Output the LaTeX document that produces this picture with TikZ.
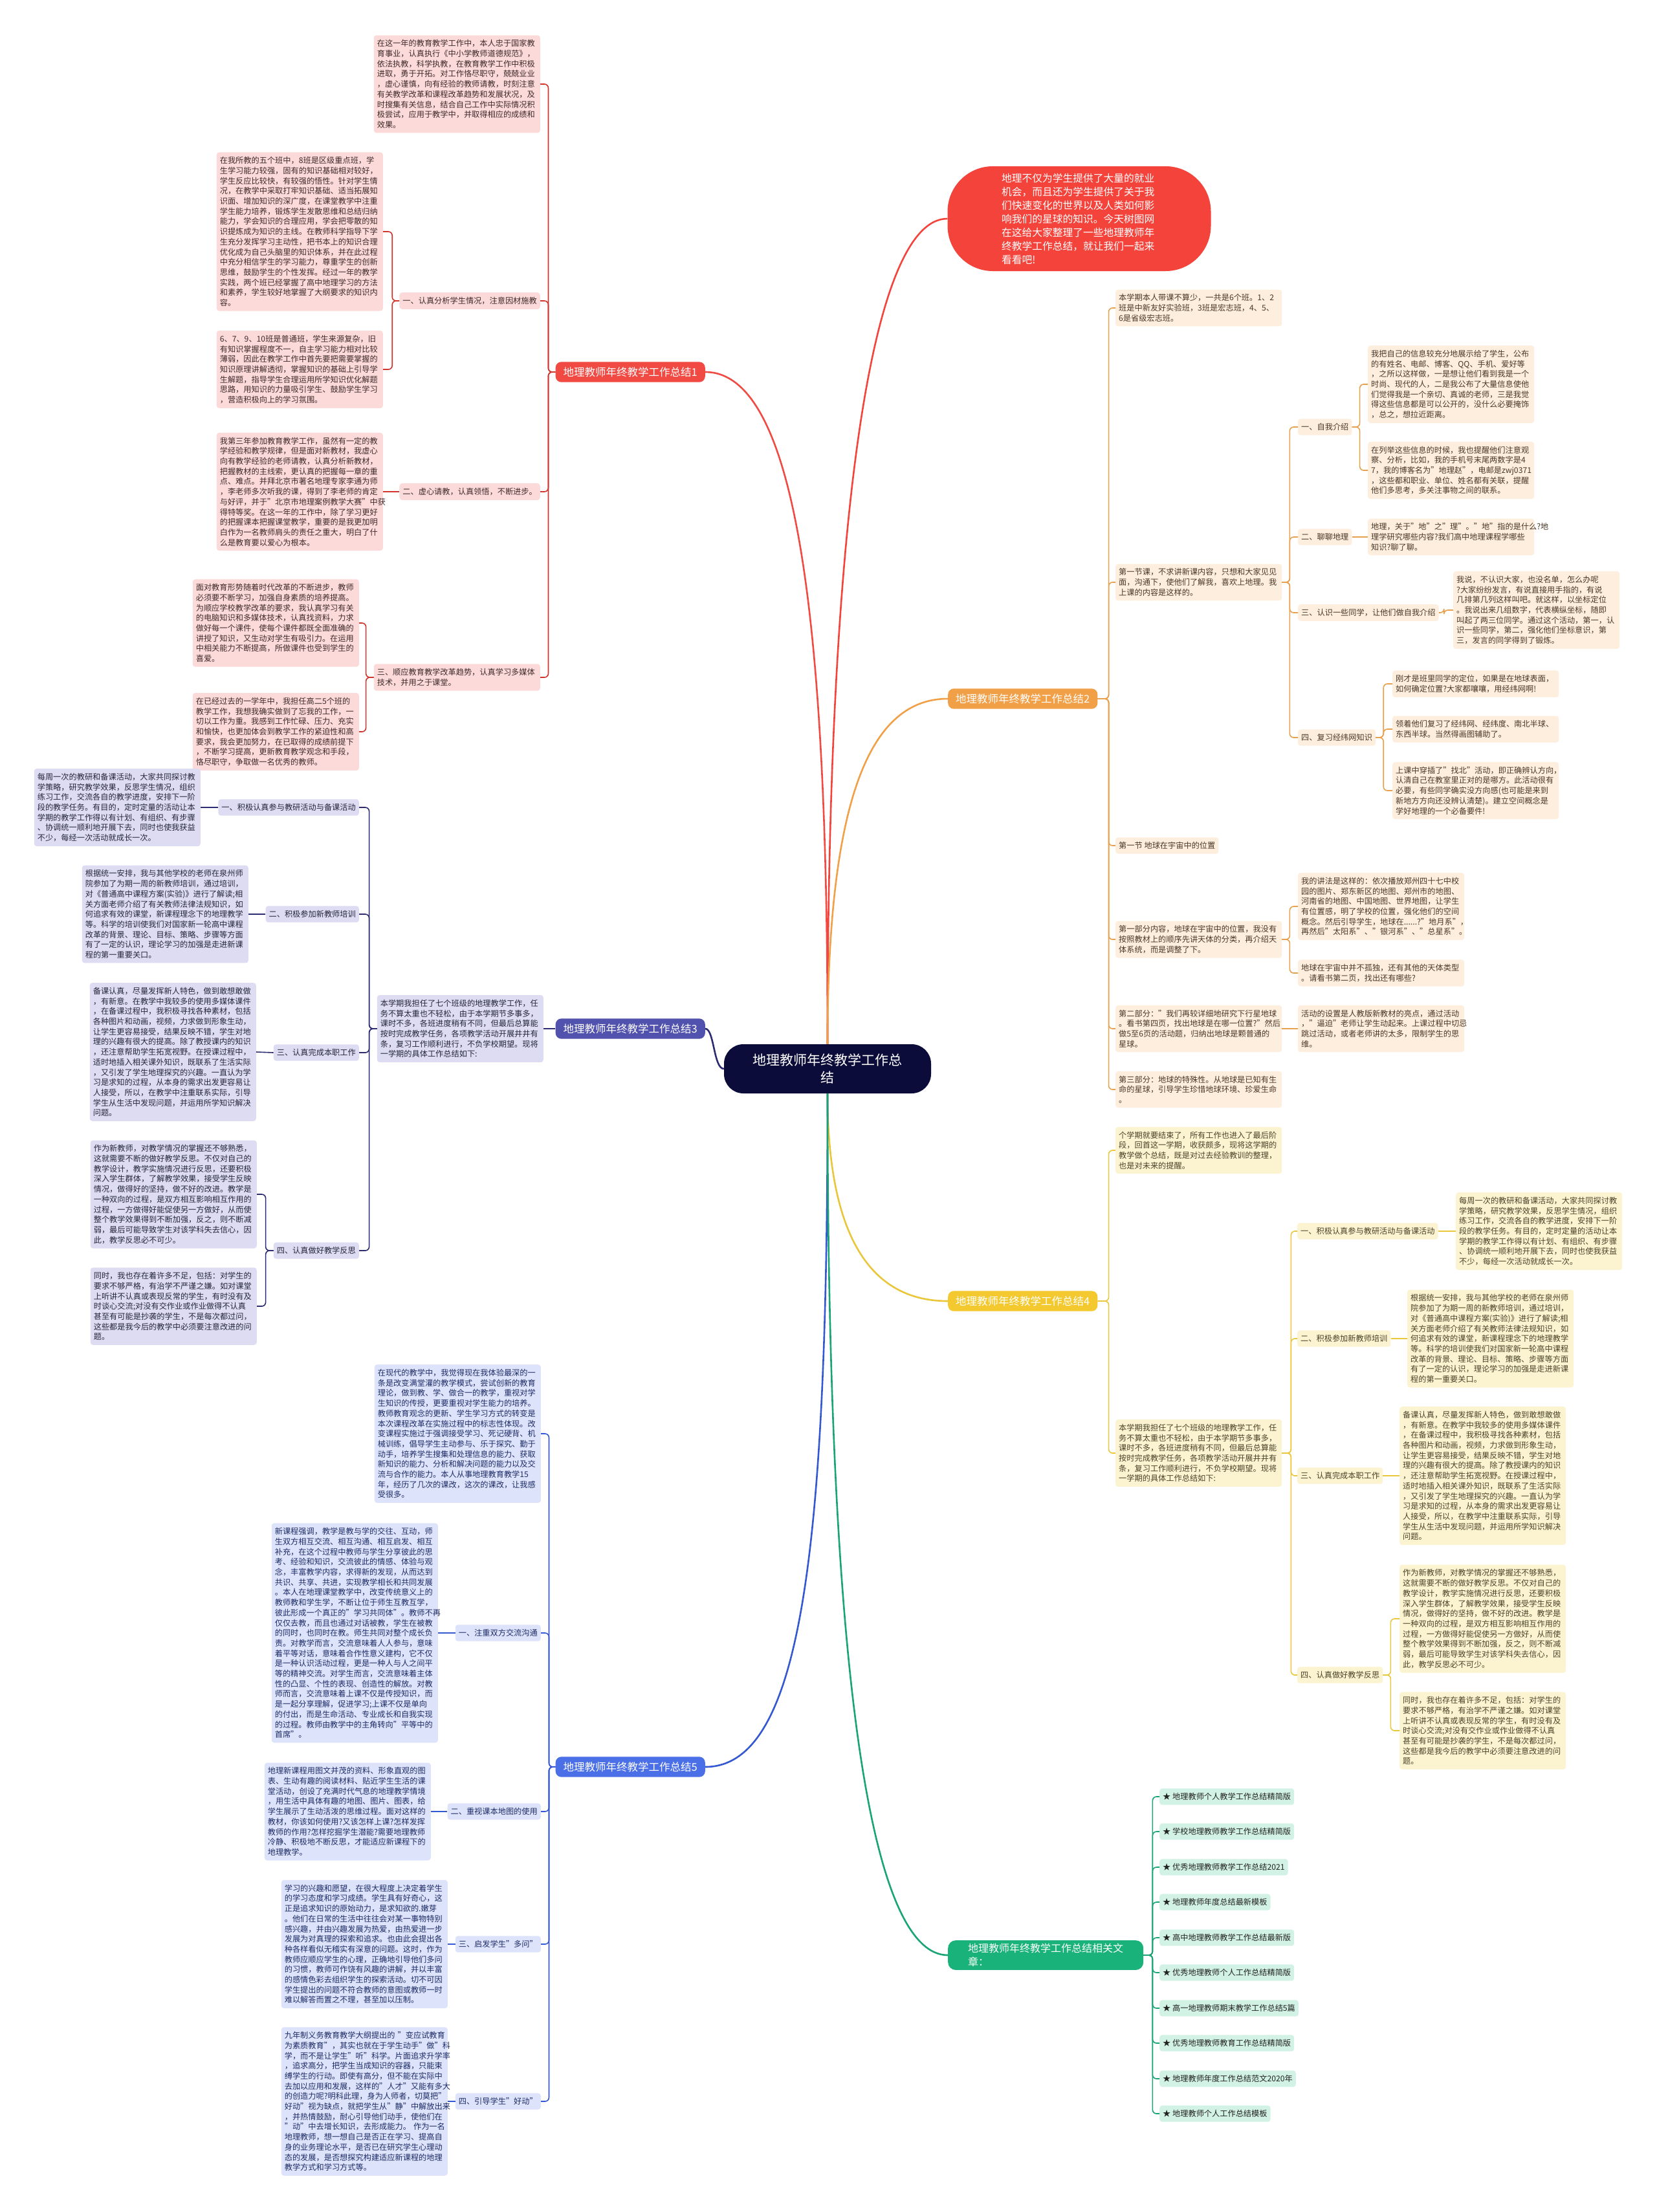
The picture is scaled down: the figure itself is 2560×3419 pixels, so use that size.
\documentclass[tikz,border=0pt]{standalone}
\usepackage{fontspec}
\setmainfont{Noto Sans CJK SC}
\usetikzlibrary{calc}
\definecolor{lnA}{HTML}{D0342C}\definecolor{fA}{HTML}{FCDADA}\definecolor{tA}{HTML}{3E2A2A}\definecolor{labA}{HTML}{F04A43}
\definecolor{lnB}{HTML}{E9A04C}\definecolor{fB}{HTML}{FDEEDD}\definecolor{tB}{HTML}{4A3826}\definecolor{labB}{HTML}{F2A047}
\definecolor{lnC}{HTML}{2C2C72}\definecolor{fC}{HTML}{DDDCF3}\definecolor{tC}{HTML}{26263A}\definecolor{labC}{HTML}{5151AE}
\definecolor{lnD}{HTML}{EAC73A}\definecolor{fD}{HTML}{FCF4D0}\definecolor{tD}{HTML}{4A4228}\definecolor{labD}{HTML}{F3C92F}
\definecolor{lnE}{HTML}{3457D2}\definecolor{fE}{HTML}{DCE3FA}\definecolor{tE}{HTML}{1E2C66}\definecolor{labE}{HTML}{4A6FE6}
\definecolor{lnF}{HTML}{19A473}\definecolor{fF}{HTML}{D2F2E5}\definecolor{tF}{HTML}{222222}\definecolor{labF}{HTML}{18B27A}
\definecolor{cen}{HTML}{0C0C3A}\definecolor{bub}{HTML}{F3433B}
\tikzset{
 txt/.style={font=\fontsize{12.2}{15.7}\selectfont, inner xsep=5pt, inner ysep=7pt, rounded corners=4pt, align=left},
 leafw/.style={text width=247pt},
 bxA/.style={txt, fill=fA, text=tA}, bxB/.style={txt, fill=fB, text=tB},
 bxC/.style={txt, fill=fC, text=tC}, bxD/.style={txt, fill=fD, text=tD},
 bxE/.style={txt, fill=fE, text=tE}, bxF/.style={txt, fill=fF, text=tF},
 lnAs/.style={draw=lnA, line width=1.6pt, rounded corners=6pt},
 lnBs/.style={draw=lnB, line width=1.6pt, rounded corners=6pt},
 lnCs/.style={draw=lnC, line width=1.6pt, rounded corners=6pt},
 lnDs/.style={draw=lnD, line width=1.6pt, rounded corners=6pt},
 lnEs/.style={draw=lnE, line width=1.6pt, rounded corners=6pt},
 lnFs/.style={draw=lnF, line width=1.6pt, rounded corners=6pt},
 lab/.style={font=\fontsize{16.5}{21}\selectfont, text=white, inner xsep=12pt, inner ysep=8pt, rounded corners=9pt},
 mainc/.style={line width=2.6pt}
}
\begin{document}
\begin{tikzpicture}[x=1pt,y=-1pt]
\useasboundingbox (0,0) rectangle (2560,3419);
\fill[white] (0,0) rectangle (2560,3419);

% centre and intro bubble
\node[fill=cen, text=white, font=\fontsize{21}{27}\selectfont, align=center, minimum width=320pt, minimum height=76pt, rounded corners=30pt, inner sep=4pt] (c) at (1279,1652) {地理教师年终教学工作总\\结};
\node[fill=bub, text=white, font=\fontsize{15.75}{21}\selectfont, align=left, text width=240pt, minimum width=407pt, minimum height=162pt, rounded corners=70pt] (bub) at (1668,338) {地理不仅为学生提供了大量的就业\\机会，而且还为学生提供了关于我\\们快速变化的世界以及人类如何影\\响我们的星球的知识。今天树图网\\在这给大家整理了一些地理教师年\\终教学工作总结，就让我们一起来\\看看吧!};

% ================= branch 1
\node[lab, fill=labA, anchor=east] (b1) at (1090,575) {地理教师年终教学工作总结1};
\node[bxA, leafw, anchor=east] (b1l1) at (835,130) {在这一年的教育教学工作中，本人忠于国家教\\育事业，认真执行《中小学教师道德规范》，\\依法执教，科学执教，在教育教学工作中积极\\进取，勇于开拓。对工作恪尽职守，兢兢业业\\，虚心谨慎，向有经验的教师请教，时刻注意\\有关教学改革和课程改革趋势和发展状况，及\\时搜集有关信息，结合自己工作中实际情况积\\极尝试，应用于教学中，并取得相应的成绩和\\效果。};
\node[bxA, anchor=east] (b1s1) at (835,465) {一、认真分析学生情况，注意因材施教};
\node[bxA, anchor=east] (b1s2) at (835,760) {二、虚心请教，认真领悟，不断进步。};
\node[bxA, leafw, anchor=east] (b1s3) at (835,1047) {三、顺应教育教学改革趋势，认真学习多媒体\\技术，并用之于课堂。};
\node[bxA, leafw, anchor=east] (b1l2) at (592,358) {在我所教的五个班中，8班是区级重点班，学\\生学习能力较强，固有的知识基础相对较好，\\学生反应比较快，有较强的悟性。针对学生情\\况，在教学中采取打牢知识基础、适当拓展知\\识面、增加知识的深广度，在课堂教学中注重\\学生能力培养，锻炼学生发散思维和总结归纳\\能力，学会知识的合理应用，学会把零散的知\\识提炼成为知识的主线。在教师科学指导下学\\生充分发挥学习主动性，把书本上的知识合理\\优化成为自己头脑里的知识体系，并在此过程\\中充分相信学生的学习能力，尊重学生的创新\\思维，鼓励学生的个性发挥。经过一年的教学\\实践，两个班已经掌握了高中地理学习的方法\\和素养，学生较好地掌握了大纲要求的知识内\\容。};
\node[bxA, leafw, anchor=east] (b1l3) at (592,571) {6、7、9、10班是普通班，学生来源复杂，旧\\有知识掌握程度不一，自主学习能力相对比较\\薄弱，因此在教学工作中首先要把需要掌握的\\知识原理讲解透彻，掌握知识的基础上引导学\\生解题，指导学生合理运用所学知识优化解题\\思路，用知识的力量吸引学生、鼓励学生学习\\，营造积极向上的学习氛围。};
\node[bxA, leafw, anchor=east] (b1l4) at (592,760) {我第三年参加教育教学工作，虽然有一定的教\\学经验和教学规律，但是面对新教材，我虚心\\向有教学经验的老师请教，认真分析新教材，\\把握教材的主线索，更认真的把握每一章的重\\点、难点。并拜北京市著名地理专家李通为师\\，李老师多次听我的课，得到了李老师的肯定\\与好评，并于"北京市地理案例教学大赛"中获\\得特等奖。在这一年的工作中，除了学习更好\\的把握课本把握课堂教学，重要的是我更加明\\白作为一名教师肩头的责任之重大，明白了什\\么是教育要以爱心为根本。};
\node[bxA, leafw, anchor=east] (b1l5) at (555,963) {面对教育形势随着时代改革的不断进步，教师\\必须要不断学习，加强自身素质的培养提高。\\为顺应学校教学改革的要求，我认真学习有关\\的电脑知识和多媒体技术，认真找资料，力求\\做好每一个课件，使每个课件都既全面准确的\\讲授了知识，又生动对学生有吸引力。在运用\\中相关能力不断提高，所做课件也受到学生的\\喜爱。};
\node[bxA, leafw, anchor=east] (b1l6) at (555,1131) {在已经过去的一学年中，我担任高二5个班的\\教学工作，我想我确实做到了忘我的工作，一\\切以工作为重。我感到工作忙碌、压力、充实\\和愉快，也更加体会到教学工作的紧迫性和高\\要求，我会更加努力，在已取得的成绩前提下\\，不断学习提高，更新教育教学观念和手段，\\恪尽职守，争取做一名优秀的教师。};
\foreach \t in {b1l1,b1s1,b1s2,b1s3}{\draw[lnAs] (b1.west) -- ++(-11,0) |- (\t.east);}
\draw[lnAs] (b1s1.west) -- ++(-11,0) |- (b1l2.east);
\draw[lnAs] (b1s1.west) -- ++(-11,0) |- (b1l3.east);
\draw[lnAs] (b1s2.west) -- (b1l4.east);
\draw[lnAs] (b1s3.west) -- ++(-12,0) |- (b1l5.east);
\draw[lnAs] (b1s3.west) -- ++(-12,0) |- (b1l6.east);

% ================= branch 3
\node[lab, fill=labC, anchor=east] (b3) at (1090,1590) {地理教师年终教学工作总结3};
\node[bxC, leafw, anchor=east] (b3t) at (840,1590) {本学期我担任了七个班级的地理教学工作，任\\务不算太重也不轻松，由于本学期节多事多，\\课时不多，各班进度稍有不同，但最后总算能\\按时完成教学任务，各项教学活动开展井井有\\条，复习工作顺利进行，不负学校期望。现将\\一学期的具体工作总结如下:};
\node[bxC, anchor=east] (b3s1) at (555,1248) {一、积极认真参与教研活动与备课活动};
\node[bxC, anchor=east] (b3s2) at (555,1413) {二、积极参加新教师培训};
\node[bxC, anchor=east] (b3s3) at (555,1627) {三、认真完成本职工作};
\node[bxC, anchor=east] (b3s4) at (555,1933) {四、认真做好教学反思};
\node[bxC, leafw, anchor=east] (b3l1) at (310,1248) {每周一次的教研和备课活动，大家共同探讨教\\学策略，研究教学效果，反思学生情况，组织\\练习工作，交流各自的教学进度，安排下一阶\\段的教学任务。有目的，定时定量的活动让本\\学期的教学工作得以有计划、有组织、有步骤\\、协调统一顺利地开展下去，同时也使我获益\\不少，每经一次活动就成长一次。};
\node[bxC, leafw, anchor=east] (b3l2) at (384,1413) {根据统一安排，我与其他学校的老师在泉州师\\院参加了为期一周的新教师培训，通过培训，\\对《普通高中课程方案(实验)》进行了解读;相\\关方面老师介绍了有关教师法律法规知识，如\\何追求有效的课堂，新课程理念下的地理教学\\等。科学的培训使我们对国家新一轮高中课程\\改革的背景、理论、目标、策略、步骤等方面\\有了一定的认识，理论学习的加强是走进新课\\程的第一重要关口。};
\node[bxC, leafw, anchor=east] (b3l3) at (396,1626) {备课认真，尽量发挥新人特色，做到敢想敢做\\，有新意。在教学中我较多的使用多媒体课件\\，在备课过程中，我积极寻找各种素材，包括\\各种图片和动画，视频，力求做到形象生动，\\让学生更容易接受，结果反映不错，学生对地\\理的兴趣有很大的提高。除了教授课内的知识\\，还注意帮助学生拓宽视野。在授课过程中，\\适时地插入相关课外知识，既联系了生活实际\\，又引发了学生地理探究的兴趣。一直认为学\\习是求知的过程，从本身的需求出发更容易让\\人接受，所以，在教学中注重联系实际，引导\\学生从生活中发现问题，并运用所学知识解决\\问题。};
\node[bxC, leafw, anchor=east] (b3l4) at (397,1846) {作为新教师，对教学情况的掌握还不够熟悉，\\这就需要不断的做好教学反思。不仅对自己的\\教学设计，教学实施情况进行反思，还要积极\\深入学生群体，了解教学效果，接受学生反映\\情况，做得好的坚持，做不好的改进。教学是\\一种双向的过程，是双方相互影响相互作用的\\过程，一方做得好能促使另一方做好，从而使\\整个教学效果得到不断加强，反之，则不断减\\弱，最后可能导致学生对该学科失去信心，因\\此，教学反思必不可少。};
\node[bxC, leafw, anchor=east] (b3l5) at (397,2019) {同时，我也存在着许多不足，包括：对学生的\\要求不够严格，有治学不严谨之嫌。如对课堂\\上听讲不认真或表现反常的学生，有时没有及\\时谈心交流;对没有交作业或作业做得不认真\\甚至有可能是抄袭的学生，不是每次都过问，\\这些都是我今后的教学中必须要注意改进的问\\题。};
\draw[lnCs] (b3.west) -- (b3t.east);
\foreach \t in {b3s1,b3s2,b3s3,b3s4}{\draw[lnCs] (b3t.west) -- ++(-12,0) |- (\t.east);}
\draw[lnCs] (b3s1.west) -- (b3l1.east);
\draw[lnCs] (b3s2.west) -- (b3l2.east);
\draw[lnCs] (b3s3.west) -- (b3l3.east);
\draw[lnCs] (b3s4.west) -- ++(-12,0) |- (b3l4.east);
\draw[lnCs] (b3s4.west) -- ++(-12,0) |- (b3l5.east);

% ================= branch 5
\node[lab, fill=labE, anchor=east] (b5) at (1090,2731) {地理教师年终教学工作总结5};
\node[bxE, leafw, anchor=east] (b5t) at (836,2216) {在现代的教学中，我觉得现在我体验最深的一\\条是改变满堂灌的教学模式，尝试创新的教育\\理论，做到教、学、做合一的教学，重视对学\\生知识的传授，更要重视对学生能力的培养。\\教师教育观念的更新、学生学习方式的转变是\\本次课程改革在实施过程中的标志性体现。改\\变课程实施过于强调接受学习、死记硬背、机\\械训练，倡导学生主动参与、乐于探究、勤于\\动手，培养学生搜集和处理信息的能力、获取\\新知识的能力、分析和解决问题的能力以及交\\流与合作的能力。本人从事地理教育教学15\\年，经历了几次的课改，这次的课改，让我感\\受很多。};
\node[bxE, anchor=east] (b5s1) at (836,2524) {一、注重双方交流沟通};
\node[bxE, anchor=east] (b5s2) at (836,2800) {二、重视课本地图的使用};
\node[bxE, anchor=east] (b5s3) at (836,3005) {三、启发学生"多问"};
\node[bxE, anchor=east] (b5s4) at (836,3248) {四、引导学生"好动"};
\node[bxE, leafw, anchor=east] (b5l1) at (677,2524) {新课程强调，教学是教与学的交往、互动，师\\生双方相互交流、相互沟通、相互启发、相互\\补充，在这个过程中教师与学生分享彼此的思\\考、经验和知识，交流彼此的情感、体验与观\\念，丰富教学内容，求得新的发现，从而达到\\共识、共享、共进，实现教学相长和共同发展\\。本人在地理课堂教学中，改变传统意义上的\\教师教和学生学，不断让位于师生互教互学，\\彼此形成一个真正的"学习共同体"。教师不再\\仅仅去教，而且也通过对话被教，学生在被教\\的同时，也同时在教。师生共同对整个成长负\\责。对教学而言，交流意味着人人参与，意味\\着平等对话，意味着合作性意义建构，它不仅\\是一种认识活动过程，更是一种人与人之间平\\等的精神交流。对学生而言，交流意味着主体\\性的凸显、个性的表现、创造性的解放。对教\\师而言，交流意味着上课不仅是传授知识，而\\是一起分享理解，促进学习;上课不仅是单向\\的付出，而是生命活动、专业成长和自我实现\\的过程。教师由教学中的主角转向"平等中的\\首席"。};
\node[bxE, leafw, anchor=east] (b5l2) at (666,2800) {地理新课程用图文并茂的资料、形象直观的图\\表、生动有趣的阅读材料、贴近学生生活的课\\堂活动，创设了充满时代气息的地理教学情境\\，用生活中具体有趣的地图、图片、图表，给\\学生展示了生动活泼的思维过程。面对这样的\\教材，你该如何使用?又该怎样上课?怎样发挥\\教师的作用?怎样挖掘学生潜能?需要地理教师\\冷静、积极地不断反思，才能适应新课程下的\\地理教学。};
\node[bxE, leafw, anchor=east] (b5l3) at (692,3005) {学习的兴趣和愿望，在很大程度上决定着学生\\的学习态度和学习成绩。学生具有好奇心，这\\正是追求知识的原始动力，是求知欲的.嫩芽\\。他们在日常的生活中往往会对某一事物特别\\感兴趣，并由兴趣发展为热爱，由热爱进一步\\发展为对真理的探索和追求。也由此会提出各\\种各样看似无稽实有深意的问题。这时，作为\\教师应顺应学生的心理，正确地引导他们多问\\的习惯，教师可作饶有风趣的讲解，并以丰富\\的感情色彩去组织学生的探索活动。切不可因\\学生提出的问题不符合教师的意图或教师一时\\难以解答而置之不理，甚至加以压制。};
\node[bxE, leafw, anchor=east] (b5l4) at (692,3248) {九年制义务教育教学大纲提出的~"变应试教育\\为素质教育"，其实也就在于学生动手"做"科\\学，而不是让学生"听"科学。片面追求升学率\\，追求高分，把学生当成知识的容器，只能束\\缚学生的行动。即使有高分，但不能在实际中\\去加以应用和发展，这样的"人才"又能有多大\\的创造力呢?明科此理，身为人师者，切莫把"\\好动"视为缺点，就把学生从"静"中解放出来\\，并热情鼓励，耐心引导他们动手，使他们在\\"动"中去增长知识，去形成能力。~作为一名\\地理教师，想一想自己是否正在学习、提高自\\身的业务理论水平，是否已在研究学生心理动\\态的发展，是否想探究构建适应新课程的地理\\教学方式和学习方式等。};
\foreach \t in {b5t,b5s1,b5s2,b5s3,b5s4}{\draw[lnEs] (b5.west) -- ++(-10,0) |- (\t.east);}
\draw[lnEs] (b5s1.west) -- (b5l1.east);
\draw[lnEs] (b5s2.west) -- (b5l2.east);
\draw[lnEs] (b5s3.west) -- (b5l3.east);
\draw[lnEs] (b5s4.west) -- (b5l4.east);

% ================= branch 2
\node[lab, fill=labB, anchor=west] (b2) at (1465,1080) {地理教师年终教学工作总结2};
\node[bxB, leafw, anchor=west] (b2l1) at (1724,476) {本学期本人带课不算少，一共是6个班。1、2\\班是中新友好实验班，3班是宏志班，4、5、\\6是省级宏志班。};
\node[bxB, leafw, anchor=west] (b2n1) at (1724,900) {第一节课，不求讲新课内容，只想和大家见见\\面，沟通下，使他们了解我，喜欢上地理。我\\上课的内容是这样的。};
\node[bxB, anchor=west] (b2h) at (1724,1307) {第一节~地球在宇宙中的位置};
\node[bxB, leafw, anchor=west] (b2p1) at (1724,1452) {第一部分内容，地球在宇宙中的位置，我没有\\按照教材上的顺序先讲天体的分类，再介绍天\\体系统，而是调整了下。};
\node[bxB, leafw, anchor=west] (b2p2) at (1724,1590) {第二部分："我们再较详细地研究下行星地球\\。看书第四页，找出地球是在哪一位置?"然后\\做5至6页的活动题，归纳出地球是颗普通的\\星球。};
\node[bxB, leafw, anchor=west] (b2p3) at (1724,1684) {第三部分：地球的特殊性。从地球是已知有生\\命的星球，引导学生珍惜地球环境、珍爱生命\\。};
\node[bxB, anchor=west] (b2s1) at (2006,660) {一、自我介绍};
\node[bxB, anchor=west] (b2s2) at (2006,830) {二、聊聊地理};
\node[bxB, anchor=west] (b2s3) at (2006,947) {三、认识一些同学，让他们做自我介绍};
\node[bxB, anchor=west] (b2s4) at (2006,1140) {四、复习经纬网知识};
\node[bxB, leafw, anchor=west] (b2a1) at (2114,594) {我把自己的信息较充分地展示给了学生，公布\\的有姓名、电邮、博客、QQ、手机、爱好等\\，之所以这样做，一是想让他们看到我是一个\\时尚、现代的人，二是我公布了大量信息使他\\们觉得我是一个亲切、真诚的老师，三是我觉\\得这些信息都是可以公开的，没什么必要掩饰\\，总之，想拉近距离。};
\node[bxB, leafw, anchor=west] (b2a2) at (2114,727) {在列举这些信息的时候，我也提醒他们注意观\\察、分析，比如，我的手机号末尾两数字是4\\7，我的博客名为"地理赵"，电邮是zwj0371\\，这些都和职业、单位、姓名都有关联，提醒\\他们多思考，多关注事物之间的联系。};
\node[bxB, leafw, anchor=west] (b2b1) at (2114,830) {地理，关于"地"之"理"。"地"指的是什么?地\\理学研究哪些内容?我们高中地理课程学哪些\\知识?聊了聊。};
\node[bxB, leafw, anchor=west] (b2c1) at (2246,943) {我说，不认识大家，也没名单，怎么办呢\\?大家纷纷发言，有说直接用手指的，有说\\几排第几列这样叫吧。就这样，以坐标定位\\。我说出来几组数字，代表横纵坐标，随即\\叫起了两三位同学。通过这个活动，第一，认\\识一些同学，第二，强化他们坐标意识，第\\三，发言的同学得到了锻炼。};
\node[bxB, leafw, anchor=west] (b2d1) at (2152,1057) {刚才是班里同学的定位，如果是在地球表面，\\如何确定位置?大家都嚷嚷，用经纬网啊!};
\node[bxB, leafw, anchor=west] (b2d2) at (2152,1127) {领着他们复习了经纬网、经纬度、南北半球、\\东西半球。当然得画图辅助了。};
\node[bxB, leafw, anchor=west] (b2d3) at (2152,1222) {上课中穿插了"找北"活动，即正确辨认方向，\\认清自己在教室里正对的是哪方。此活动很有\\必要，有些同学确实没方向感(也可能是来到\\新地方方向还没辨认清楚)。建立空间概念是\\学好地理的一个必备要件!};
\node[bxB, leafw, anchor=west] (b2e1) at (2006,1401) {我的讲法是这样的：依次播放郑州四十七中校\\园的图片、郑东新区的地图、郑州市的地图、\\河南省的地图、中国地图、世界地图，让学生\\有位置感，明了学校的位置，强化他们的空间\\概念。然后引导学生，地球在......?"地月系"，\\再然后"太阳系"、"银河系"、"总星系"。};
\node[bxB, leafw, anchor=west] (b2e2) at (2006,1504) {地球在宇宙中并不孤独，还有其他的天体类型\\。请看书第二页，找出还有哪些?};
\node[bxB, leafw, anchor=west] (b2f1) at (2006,1590) {活动的设置是人教版新教材的亮点，通过活动\\，"逼迫"老师让学生动起来。上课过程中切忌\\跳过活动，或者老师讲的太多，限制学生的思\\维。};
\foreach \t in {b2l1,b2n1,b2h,b2p1,b2p2,b2p3}{\draw[lnBs] (b2.east) -- ++(17,0) |- (\t.west);}
\foreach \t in {b2s1,b2s2,b2s3,b2s4}{\draw[lnBs] (b2n1.east) -- ++(12,0) |- (\t.west);}
\draw[lnBs] (b2s1.east) -- ++(12,0) |- (b2a1.west);
\draw[lnBs] (b2s1.east) -- ++(12,0) |- (b2a2.west);
\draw[lnBs] (b2s2.east) -- (b2b1.west);
\draw[lnBs] (b2s3.east) -- ++(8,0) |- (b2c1.west);
\foreach \t in {b2d1,b2d2,b2d3}{\draw[lnBs] (b2s4.east) -- ++(12,0) |- (\t.west);}
\draw[lnBs] (b2p1.east) -- ++(12,0) |- (b2e1.west);
\draw[lnBs] (b2p1.east) -- ++(12,0) |- (b2e2.west);
\draw[lnBs] (b2p2.east) -- (b2f1.west);

% ================= branch 4
\node[lab, fill=labD, anchor=west] (b4) at (1465,2011) {地理教师年终教学工作总结4};
\node[bxD, leafw, anchor=west] (b4l1) at (1724,1778) {个学期就要结束了，所有工作也进入了最后阶\\段，回首这一学期，收获颇多，现将这学期的\\教学做个总结，既是对过去经验教训的整理，\\也是对未来的提醒。};
\node[bxD, leafw, anchor=west] (b4t) at (1724,2246) {本学期我担任了七个班级的地理教学工作，任\\务不算太重也不轻松，由于本学期节多事多，\\课时不多，各班进度稍有不同，但最后总算能\\按时完成教学任务，各项教学活动开展井井有\\条，复习工作顺利进行，不负学校期望。现将\\一学期的具体工作总结如下:};
\node[bxD, anchor=west] (b4s1) at (2005,1903) {一、积极认真参与教研活动与备课活动};
\node[bxD, anchor=west] (b4s2) at (2005,2069) {二、积极参加新教师培训};
\node[bxD, anchor=west] (b4s3) at (2005,2281) {三、认真完成本职工作};
\node[bxD, anchor=west] (b4s4) at (2005,2589) {四、认真做好教学反思};
\node[bxD, leafw, anchor=west] (b4a) at (2250,1903) {每周一次的教研和备课活动，大家共同探讨教\\学策略，研究教学效果，反思学生情况，组织\\练习工作，交流各自的教学进度，安排下一阶\\段的教学任务。有目的，定时定量的活动让本\\学期的教学工作得以有计划、有组织、有步骤\\、协调统一顺利地开展下去，同时也使我获益\\不少，每经一次活动就成长一次。};
\node[bxD, leafw, anchor=west] (b4b) at (2175,2069) {根据统一安排，我与其他学校的老师在泉州师\\院参加了为期一周的新教师培训，通过培训，\\对《普通高中课程方案(实验)》进行了解读;相\\关方面老师介绍了有关教师法律法规知识，如\\何追求有效的课堂，新课程理念下的地理教学\\等。科学的培训使我们对国家新一轮高中课程\\改革的背景、理论、目标、策略、步骤等方面\\有了一定的认识，理论学习的加强是走进新课\\程的第一重要关口。};
\node[bxD, leafw, anchor=west] (b4c) at (2163,2281) {备课认真，尽量发挥新人特色，做到敢想敢做\\，有新意。在教学中我较多的使用多媒体课件\\，在备课过程中，我积极寻找各种素材，包括\\各种图片和动画，视频，力求做到形象生动，\\让学生更容易接受，结果反映不错，学生对地\\理的兴趣有很大的提高。除了教授课内的知识\\，还注意帮助学生拓宽视野。在授课过程中，\\适时地插入相关课外知识，既联系了生活实际\\，又引发了学生地理探究的兴趣。一直认为学\\习是求知的过程，从本身的需求出发更容易让\\人接受，所以，在教学中注重联系实际，引导\\学生从生活中发现问题，并运用所学知识解决\\问题。};
\node[bxD, leafw, anchor=west] (b4d1) at (2163,2502) {作为新教师，对教学情况的掌握还不够熟悉，\\这就需要不断的做好教学反思。不仅对自己的\\教学设计，教学实施情况进行反思，还要积极\\深入学生群体，了解教学效果，接受学生反映\\情况，做得好的坚持，做不好的改进。教学是\\一种双向的过程，是双方相互影响相互作用的\\过程，一方做得好能促使另一方做好，从而使\\整个教学效果得到不断加强，反之，则不断减\\弱，最后可能导致学生对该学科失去信心，因\\此，教学反思必不可少。};
\node[bxD, leafw, anchor=west] (b4d2) at (2163,2675) {同时，我也存在着许多不足，包括：对学生的\\要求不够严格，有治学不严谨之嫌。如对课堂\\上听讲不认真或表现反常的学生，有时没有及\\时谈心交流;对没有交作业或作业做得不认真\\甚至有可能是抄袭的学生，不是每次都过问，\\这些都是我今后的教学中必须要注意改进的问\\题。};
\foreach \t in {b4l1,b4t}{\draw[lnDs] (b4.east) -- ++(17,0) |- (\t.west);}
\foreach \t in {b4s1,b4s2,b4s3,b4s4}{\draw[lnDs] (b4t.east) -- ++(14,0) |- (\t.west);}
\draw[lnDs] (b4s1.east) -- (b4a.west);
\draw[lnDs] (b4s2.east) -- (b4b.west);
\draw[lnDs] (b4s3.east) -- (b4c.west);
\draw[lnDs] (b4s4.east) -- ++(12,0) |- (b4d1.west);
\draw[lnDs] (b4s4.east) -- ++(12,0) |- (b4d2.west);

% ================= branch 6
\node[font=\fontsize{16}{21}\selectfont, text=white, fill=labF, inner xsep=31pt, inner ysep=5pt, rounded corners=12pt, align=left, anchor=west] (b6) at (1465,3022) {地理教师年终教学工作总结相关文\\章：};
\node[bxF, anchor=west] (r1) at (1792,2777) {★~地理教师个人教学工作总结精简版};
\node[bxF, anchor=west] (r2) at (1792,2831) {★~学校地理教师教学工作总结精简版};
\node[bxF, anchor=west] (r3) at (1792,2886) {★~优秀地理教师教学工作总结2021};
\node[bxF, anchor=west] (r4) at (1792,2940) {★~地理教师年度总结最新模板};
\node[bxF, anchor=west] (r5) at (1792,2995) {★~高中地理教师教学工作总结最新版};
\node[bxF, anchor=west] (r6) at (1792,3049) {★~优秀地理教师个人工作总结精简版};
\node[bxF, anchor=west] (r7) at (1792,3104) {★~高一地理教师期末教学工作总结5篇};
\node[bxF, anchor=west] (r8) at (1792,3158) {★~优秀地理教师教育工作总结精简版};
\node[bxF, anchor=west] (r9) at (1792,3213) {★~地理教师年度工作总结范文2020年};
\node[bxF, anchor=west] (r10) at (1792,3267) {★~地理教师个人工作总结模板};
\foreach \t in {r1,r2,r3,r4,r5,r6,r7,r8,r9,r10}{\draw[lnFs] (b6.east) -- ++(14,0) |- (\t.west);}

% ================= main curves
\draw[mainc, draw=bub] (c.north) .. controls +(0,-800) and +(-120,0) .. (bub.west);
\draw[mainc, draw=labA] (c.north) .. controls +(0,-600) and +(150,0) .. (b1.east);
\draw[mainc, draw=labB] (c.north) .. controls +(0,-380) and +(-120,0) .. (b2.west);
\draw[mainc, draw=lnC] (c.west) .. controls +(-16,0) and +(14,0) .. (b3.east);
\draw[mainc, draw=lnD] (c.south) .. controls +(0,220) and +(-120,0) .. (b4.west);
\draw[mainc, draw=lnE] (c.south) .. controls +(0,700) and +(150,0) .. (b5.east);
\draw[mainc, draw=lnF] (c.south) .. controls +(0,900) and +(-120,0) .. (b6.west);
\end{tikzpicture}
\end{document}
